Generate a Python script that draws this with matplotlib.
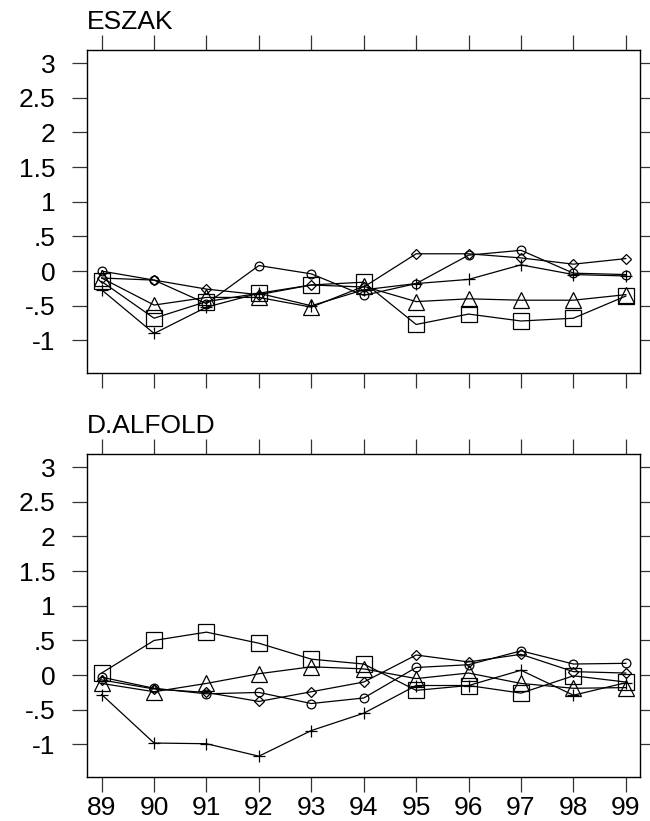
#!/usr/bin/env python3
"""
Regional index plot: two stacked panels (ESZAK, D.ALFOLD), five series each.
Dependencies: matplotlib
"""

import matplotlib
matplotlib.use('Agg')
import matplotlib.pyplot as plt

# Years on the x axis (19xx)
years = [89, 90, 91, 92, 93, 94, 95, 96, 97, 98, 99]

# ESZAK panel
eszak_circle = [0.0, -0.13, -0.47, 0.08, -0.04, -0.35, -0.18, 0.23, 0.30, -0.03, -0.05]
eszak_diamond = [-0.10, -0.13, -0.26, -0.34, -0.20, -0.23, 0.25, 0.25, 0.19, 0.10, 0.18]
eszak_plus = [-0.27, -0.90, -0.52, -0.32, -0.50, -0.27, -0.18, -0.12, 0.09, -0.05, -0.07]
eszak_triangle = [-0.10, -0.49, -0.38, -0.38, -0.52, -0.22, -0.44, -0.40, -0.42, -0.42, -0.34]
eszak_square = [-0.15, -0.68, -0.44, -0.32, -0.20, -0.16, -0.77, -0.62, -0.72, -0.68, -0.36]

# D.ALFOLD panel
dalfold_circle = [-0.03, -0.19, -0.27, -0.25, -0.41, -0.33, 0.11, 0.15, 0.35, 0.16, 0.17]
dalfold_diamond = [-0.07, -0.20, -0.25, -0.38, -0.24, -0.10, 0.29, 0.19, 0.30, 0.05, 0.03]
dalfold_plus = [-0.28, -0.98, -0.99, -1.17, -0.80, -0.55, -0.15, -0.15, 0.07, -0.29, -0.11]
dalfold_triangle = [-0.12, -0.24, -0.12, 0.02, 0.12, 0.09, -0.05, 0.03, -0.12, -0.19, -0.18]
dalfold_square = [0.03, 0.50, 0.62, 0.46, 0.23, 0.16, -0.22, -0.15, -0.26, -0.01, -0.10]

ytick_values = [3, 2.5, 2, 1.5, 1, 0.5, 0, -0.5, -1]
ytick_labels = ['3', '2.5', '2', '1.5', '1', '.5', '0', '-.5', '-1']

plt.rcParams['font.family'] = ['Liberation Sans', 'DejaVu Sans']

# marker, size (pt)
styles = [('o', 6.3), ('D', 5.6), ('+', 8.5), ('^', 11.3), ('s', 11.3)]


def draw_panel(ax, title, series, show_xlabels):
    for values, (marker, ms) in zip(series, styles):
        ax.plot(years, values, color='black', linewidth=0.9,
                marker=marker, markersize=ms, markerfacecolor='none',
                markeredgecolor='black', markeredgewidth=0.9)

    ax.set_xlim(88.72, 99.27)
    ax.set_ylim(-1.47, 3.19)
    ax.set_xticks(years)
    ax.set_yticks(ytick_values)
    ax.set_yticklabels(ytick_labels)
    if show_xlabels:
        ax.set_xticklabels([str(y) for y in years])
    else:
        ax.set_xticklabels([])

    ax.tick_params(axis='both', direction='out', length=10.8, width=0.9,
                   color='#333333', labelsize=19)
    ax.tick_params(axis='x', top=True, bottom=True, pad=3)
    ax.tick_params(axis='y', left=True, right=True, pad=12)
    for spine in ax.spines.values():
        spine.set_linewidth(1.0)
        spine.set_color('black')

    ax.annotate(title, xy=(0, 1), xycoords='axes fraction',
                xytext=(0, 14.8), textcoords='offset points',
                ha='left', va='baseline', fontsize=19)


def create_figure():
    fig = plt.figure(figsize=(6.5, 8.21), dpi=100)
    ax_top = fig.add_axes([0.1338, 0.5457, 0.8508, 0.3934])
    ax_bot = fig.add_axes([0.1338, 0.0536, 0.8508, 0.3934])

    draw_panel(ax_top, 'ESZAK',
               [eszak_circle, eszak_diamond, eszak_plus, eszak_triangle, eszak_square],
               show_xlabels=False)
    draw_panel(ax_bot, 'D.ALFOLD',
               [dalfold_circle, dalfold_diamond, dalfold_plus, dalfold_triangle, dalfold_square],
               show_xlabels=True)

    fig.savefig('out.png', dpi=100, facecolor='white')
    plt.close(fig)


if __name__ == "__main__":
    create_figure()
